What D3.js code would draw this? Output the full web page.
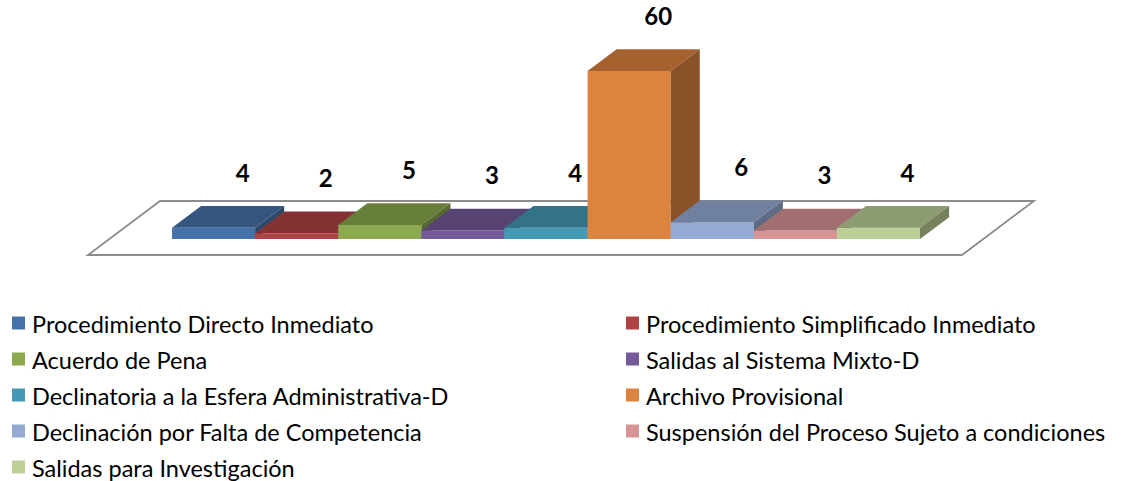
<!DOCTYPE html>
<html>
<head>
<meta charset="utf-8">
<script src="https://cdn.jsdelivr.net/npm/d3@7"></script>
<style>
    body { margin: 0; background: #fff; }
    svg { display: block; }
</style>
</head>
<body>
<div id="chart"></div>
<script>
// data
const categories = [
    "Procedimiento Directo Inmediato",
    "Procedimiento Simplificado Inmediato",
    "Acuerdo de Pena",
    "Salidas al Sistema Mixto-D",
    "Declinatoria a la Esfera Administrativa-D",
    "Archivo Provisional",
    "Declinación por Falta de Competencia",
    "Suspensión del Proceso Sujeto a condiciones",
    "Salidas para Investigación"
];
const values = [4, 2, 5, 3, 4, 60, 6, 3, 4];

const palette = [
    "#4672AA", "#AE4441", "#8BA94F", "#755A99", "#4499B4",
    "#DB833F", "#95AAD3", "#D69494", "#BBCF96"
];

const width = 1135, height = 481;

// floor in "front plane" coords + depth
const floor = {left: 88, right: 962, y: 255, dx: 72, dy: 54};
const barDepth = [0.296, 0.70];

const svg = d3.select("#chart").append("svg")
    .attr("width", width)
    .attr("height", height);

const x = d3.scaleBand()
    .domain(categories)
    .range([150.7, 898.7])
    .padding(0);

const h = d3.scaleLinear()
    .domain([0, 60])
    .range([0, 168]);

// project front-plane x, depth z (0..1), height px
function proj(px, z, hp) {
    return [px + floor.dx * z, floor.y - floor.dy * z - hp];
}
const poly = (pts) => "M" + pts.map((p) => p.join(",")).join("L") + "Z";

// floor
svg.append("path")
    .attr("d", poly([
        proj(floor.left, 0, 0), proj(floor.right, 0, 0),
        proj(floor.right, 1, 0), proj(floor.left, 1, 0)
    ]))
    .attr("fill", "#fff")
    .attr("stroke", "#8c8c8c")
    .attr("stroke-width", 1.8);

const data = categories.map((c, i) => ({cat: c, value: values[i], color: palette[i]}));

const bars = svg.append("g").attr("class", "bars")
    .selectAll("g")
    .data(data)
    .join("g");

const [z0, z1] = barDepth;

// front face
bars.append("path")
    .attr("d", (d) => {
        const x0 = x(d.cat), x1 = x0 + x.bandwidth(), hv = h(d.value);
        return poly([proj(x0, z0, 0), proj(x1, z0, 0), proj(x1, z0, hv), proj(x0, z0, hv)]);
    })
    .attr("fill", (d) => d.color);

// top face
bars.append("path")
    .attr("d", (d) => {
        const x0 = x(d.cat), x1 = x0 + x.bandwidth(), hv = h(d.value);
        return poly([proj(x0, z0, hv), proj(x1, z0, hv), proj(x1, z1, hv), proj(x0, z1, hv)]);
    })
    .attr("fill", (d) => d3.color(d.color).darker(0.8));

// right side
bars.append("path")
    .attr("d", (d) => {
        const x1 = x(d.cat) + x.bandwidth(), hv = h(d.value);
        return poly([proj(x1, z0, 0), proj(x1, z1, 0), proj(x1, z1, hv), proj(x1, z0, hv)]);
    })
    .attr("fill", (d) => d3.color(d.color).darker(1.3));

// value labels
svg.append("g").attr("class", "labels")
    .selectAll("text")
    .data(data)
    .join("text")
    .attr("x", (d) => proj(x(d.cat) + x.bandwidth() / 2, z1, 0)[0])
    .attr("y", (d) => proj(0, z1, h(d.value))[1] - 34)
    .attr("text-anchor", "middle")
    .attr("dominant-baseline", "central")
    .attr("font-family", "Lato, 'Open Sans', sans-serif")
    .attr("font-weight", "bold")
    .attr("font-size", 24)
    .attr("fill", "#000")
    .text((d) => d.value);

// legend, two columns
const legendCols = [12, 626];
const legendTop = 323, legendStep = 36;

const legend = svg.append("g").attr("class", "legend")
    .selectAll("g")
    .data(data)
    .join("g")
    .attr("transform", (d, i) =>
        `translate(${legendCols[i % 2]},${legendTop + Math.floor(i / 2) * legendStep})`);

legend.append("rect")
    .attr("x", 0)
    .attr("y", -6.5)
    .attr("width", 13)
    .attr("height", 13)
    .attr("fill", (d) => d.color);

legend.append("text")
    .attr("x", 20)
    .attr("y", 1)
    .attr("dominant-baseline", "central")
    .attr("font-family", "Lato, 'Open Sans', sans-serif")
    .attr("font-size", 23.5)
    .attr("fill", "#000")
    .text((d) => d.cat);
</script>
</body>
</html>
